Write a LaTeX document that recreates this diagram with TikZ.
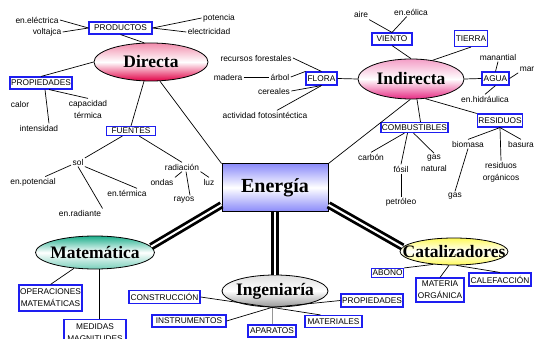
\documentclass[tikz,border=0pt]{standalone}
\usepackage{fontspec}
\setmainfont{Liberation Sans}
\newfontfamily\titlefont{Liberation Serif}
\usepackage{xcolor}
\usepackage{tikz}
\usetikzlibrary{shapes,shapes.geometric,calc}

\definecolor{boxblue}{RGB}{30,30,240}
\definecolor{dirred}{RGB}{225,0,70}
\definecolor{indpink}{RGB}{230,40,130}
\definecolor{enerblue}{RGB}{140,140,250}
\definecolor{matgreen}{RGB}{30,175,140}
\definecolor{catyellow}{RGB}{255,250,90}
\definecolor{inggray}{RGB}{150,150,150}

\begin{document}
\begin{tikzpicture}[
    x=1pt, y=-1pt,
    main/.style={ellipse, draw=black, line width=0.8pt, inner sep=0pt, font=\titlefont\bfseries\fontsize{17.5}{20}\selectfont},
    centre/.style={rectangle, draw=black, line width=1pt, inner sep=0pt, font=\titlefont\bfseries\fontsize{20}{22}\selectfont},
    box/.style={rectangle, draw=boxblue, line width=1.1pt, fill=white, inner sep=1pt, minimum height=12pt, font=\fontsize{8.3}{12}\selectfont, align=center},
    txt/.style={inner sep=0pt, outer sep=1.5pt, font=\fontsize{8.4}{12}\selectfont, align=center},
    link/.style={black, line width=0.7pt},
    trunk/.style={double=white, double distance=2pt, line width=2.8pt}
]
    \clip (0,0) rectangle (543,339);
    \fill[white] (0,0) rectangle (543,339);

    % Main nodes
    \node[main, minimum width=114pt, minimum height=38pt, top color=dirred!45, bottom color=dirred, middle color=white] (dir) at (151,62) {\makebox[0pt]{Directa}};
    \node[main, minimum width=106pt, minimum height=40pt, top color=indpink!45, bottom color=indpink, middle color=white] (ind) at (411,79) {\makebox[0pt]{Indirecta}};
    \node[centre, minimum width=106pt, minimum height=47pt, top color=enerblue, bottom color=enerblue, middle color=white] (ener) at (275,187.5) {Energía};
    \node[main, minimum width=119pt, minimum height=33pt, top color=matgreen, bottom color=matgreen!60, middle color=white] (mat) at (95,252.5) {\makebox[0pt]{Matemática}};
    \node[main, minimum width=108pt, minimum height=27pt, top color=catyellow, bottom color=catyellow, middle color=white] (cat) at (454,251.5) {\makebox[0pt]{Catalizadores}};
    \node[main, minimum width=106pt, minimum height=32pt, top color=inggray!30, bottom color=inggray, middle color=white] (ing) at (275,291) {\makebox[0pt]{Ingeniaría}};

    % Directa
    \node[box, minimum width=63pt] (prod) at (120.5,28) {PRODUCTOS};
    \node[txt] (eel) at (37,20) {en.eléctrica};
    \node[txt] (volt) at (47,32) {voltajca};
    \node[txt] (pot) at (219,18) {potencia};
    \node[txt] (elec) at (209,32) {electricidad};
    \node[box, minimum width=62pt] (prop) at (41,83) {PROPIEDADES};
    \node[txt] (calor) at (20,104) {calor};
    \node[txt] (capt) at (88,109) {capacidad\\térmica};
    \node[txt] (inten) at (39,128) {intensidad};
    \node[box, minimum width=49pt, minimum height=9pt, inner ysep=0pt] (fue) at (131,131) {FUENTES};
    \node[txt] (sol) at (78,162) {sol};
    \node[txt] (rad) at (182,167) {radiación};
    \node[txt] (epot) at (33,182) {en.potencial};
    \node[txt] (eter) at (127,193) {en.térmica};
    \node[txt] (erad) at (80,213) {en.radiante};
    \node[txt] (ond) at (162,182) {ondas};
    \node[txt] (luz) at (209,182) {luz};
    \node[txt] (ray) at (184,200) {rayos};

    % Flora
    \node[txt] (recf) at (256,58) {recursos forestales};
    \node[txt] (mad) at (228,77) {madera};
    \node[txt] (arb) at (280,77) {árbol};
    \node[txt] (cer) at (274,91) {cereales};
    \node[txt] (act) at (265,115) {actividad fotosintéctica};
    \node[box, minimum width=31pt, minimum height=13pt] (flo) at (321.5,78.5) {FLORA};

    % Indirecta
    \node[txt] (aire) at (361,15) {aire};
    \node[txt] (eeol) at (411,12) {en.eólica};
    \node[box, minimum width=40pt] (vie) at (392,39) {VIENTO};
    \node[box, minimum width=30pt, minimum height=16pt] (tie) at (471,38.5) {TIERRA};
    \node[txt] (mana) at (498,57) {manantial};
    \node[txt] (mar) at (527,69) {mar};
    \node[box, minimum width=27pt, minimum height=13pt] (agua) at (495.5,78.5) {AGUA};
    \node[txt] (ehid) at (485,99) {en.hidráulica};
    \node[box, minimum width=44pt, minimum height=13pt] (res) at (500,120.5) {RESIDUOS};
    \node[txt] (biom) at (468,144) {biomasa};
    \node[txt] (bas) at (521,144) {basura};
    \node[txt] (resor) at (501,172) {residuos\\orgánicos};
    \node[txt] (gasb) at (455,196) {gas};
    \node[box, minimum width=67pt, minimum height=10pt, inner ysep=0pt] (comb) at (414.5,127.5) {COMBUSTIBLES};
    \node[txt] (carb) at (371,157) {carbón};
    \node[txt] (fos) at (401,169) {fósil};
    \node[txt] (gasn) at (434,163) {gas\\natural};
    \node[txt] (petr) at (401,202) {petróleo};

    % Matematica, Ingenieria, Catalizadores
    \node[box, minimum width=63pt, minimum height=26pt] (oper) at (50.5,298) {OPERACIONES\\MATEMÁTICAS};
    \node[box, minimum width=62pt, minimum height=26pt, anchor=north] (med) at (95,319) {MEDIDAS\\MAGNITUDES};
    \node[box, minimum width=71pt, minimum height=13pt] (cons) at (164.5,297) {CONSTRUCCIÓN};
    \node[box, minimum width=74pt] (inst) at (189,321) {INSTRUMENTOS};
    \node[box, minimum width=48pt] (apar) at (272,331) {APARATOS};
    \node[box, minimum width=57pt] (mate) at (333.5,321.5) {MATERIALES};
    \node[box, minimum width=62pt, minimum height=13pt] (propi) at (372,300.5) {PROPIEDADES};
    \node[box, minimum width=31pt, minimum height=9pt, inner ysep=0pt] (abo) at (387.5,273) {ABONO};
    \node[box, minimum width=48pt, minimum height=24pt] (matorg) at (440,290) {MATERIA\\ORGÁNICA};
    \node[box, minimum width=62pt, minimum height=13pt] (calef) at (500,279.5) {CALEFACCIÓN};
    \coordinate (inghub) at ([xshift=-3pt]ing.south);

    % Directa links
    \draw[link] (eel.east) -- (prod.west);
    \draw[link] (volt.east) -- (prod.west);
    \draw[link] (prod.east) -- (pot.west);
    \draw[link] (prod.east) -- (elec.west);
    \draw[link] (prod.south) -- (dir.110);
    \draw[link] (prop.north) -- (dir.west);
    \draw[link] ([xshift=4pt]prop.south) -- ([xshift=10pt]inten.north);
    \draw[link] ([xshift=8pt]prop.south) -- (capt.north);
    \draw[link] (dir.250) -- (fue.north);
    \draw[link] (fue) -- (sol);
    \draw[link] (fue) -- (rad.north);
    \draw[link] (sol) -- (epot);
    \draw[link] (sol.south) -- (erad.north east);
    \draw[link] (sol.south east) -- ([xshift=10pt]eter.north);
    \draw[link] (rad.south) -- (ond.north east);
    \draw[link] ([xshift=4pt]rad.south) -- ([xshift=6pt]ray.north);
    \draw[link] (rad.south east) -- (luz.north);

    % Flora links
    \draw[link] (recf.east) -- (flo.north);
    \draw[link] (mad.east) -- (arb.west);
    \draw[link] (arb.east) -- (flo.north west);
    \draw[link] (cer.east) -- (flo.south);
    \draw[link] ([xshift=12pt]act.north) -- (flo.south);
    \draw[link] (flo.east) -- (ind.west);

    % Indirecta links
    \draw[link] (aire) -- (vie.north);
    \draw[link] (eeol) -- (vie.north);
    \draw[link] (vie.south) -- (ind.north);
    \draw[link] (tie.south) -- (ind.41);
    \draw[link] (ind.east) -- (agua.west);
    \draw[link] (agua.north) -- (mana.south);
    \draw[link] (agua.east) -- (mar.south west);
    \draw[link] (agua.south) -- (ehid.north);
    \draw[link] (ind.306) -- (res.north west);
    \draw[link] (res.south) -- (biom.north);
    \draw[link] (res.south) -- (resor.north);
    \draw[link] (res.south) -- (bas.north);
    \draw[link] (biom.south) -- (gasb.north);
    \draw[link] ([xshift=6pt]ind.south) -- ([xshift=6pt]comb.north);
    \draw[link] ([xshift=-10pt]comb.south) -- (carb.north);
    \draw[link] ([xshift=-7pt]comb.south) -- (fos.north);
    \draw[link] ([xshift=-1pt]comb.south) -- (gasn.north);
    \draw[link] (fos.south) -- (petr.north);

    % Energia links
    \draw[link] (dir.295) -- (ener.north west);
    \draw[link] (ind.268) -- (ener.north east);
    \draw[trunk] (ener.198) -- (mat.6);
    \draw[trunk] (ener.south) -- (ing.north);
    \draw[trunk] (ener.342) -- (cat.175);

    % Lower links
    \draw[link] (mat.217) -- (oper.north);
    \draw[link] ([xshift=4pt]mat.south) -- ([xshift=4pt]med.north);
    \draw[link] (cons.east) -- (inghub);
    \draw[link] (inst.east) -- (inghub);
    \draw[link, inggray] (apar.north) -- (inghub);
    \draw[link] ([xshift=-13pt]mate.north) -- (inghub);
    \draw[link] (propi.west) -- (inghub);
    \draw[link] (abo.north east) -- (cat.212);
    \draw[link] (matorg.north) -- (cat.250);
    \draw[link] (calef.north) -- (cat.280);
\end{tikzpicture}
\end{document}
